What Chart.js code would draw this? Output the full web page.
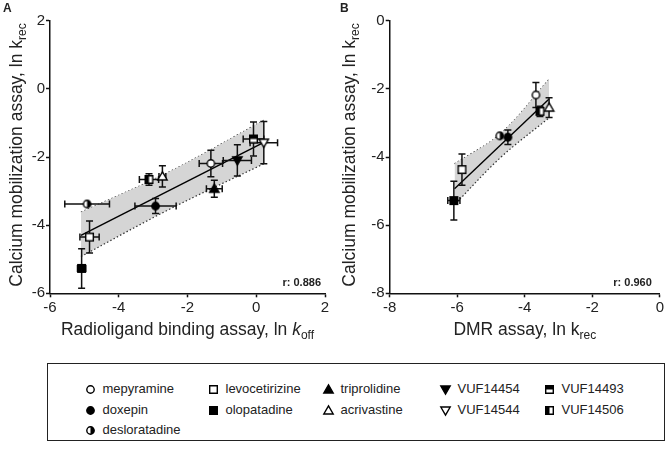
<!DOCTYPE html>
<html><head><meta charset="utf-8">
<script src="https://cdn.jsdelivr.net/npm/chart.js@4.4.1/dist/chart.umd.min.js"></script>
<style>
body{margin:0;background:#fff;width:666px;height:456px;overflow:hidden;position:relative;font-family:"Liberation Sans",Arial,sans-serif;color:#222}
#ca{position:absolute;left:0;top:0}
#cb{position:absolute;left:333px;top:0}
.plabel{position:absolute;font-weight:bold;font-size:12px;line-height:12px}
#legend{position:absolute;left:47px;top:363px;width:618px;height:78px;border:1px solid #222;box-sizing:border-box}
.item{position:absolute;font-size:13px;line-height:14px;white-space:nowrap;height:14px}
.item canvas{position:absolute;left:0;top:1px}
.item span{position:absolute;left:19px;top:0}
</style></head>
<body>
<canvas id="ca" width="333" height="350"></canvas>
<canvas id="cb" width="333" height="350"></canvas>
<div class="plabel" style="left:3px;top:2px">A</div>
<div class="plabel" style="left:340px;top:2px">B</div>
<div id="legend"></div>
<script>
// ---------------- DATA ----------------
const compounds = ['mepyramine','doxepin','desloratadine','levocetirizine','olopatadine','triprolidine','acrivastine','VUF14454','VUF14544','VUF14493','VUF14506'];
// Panel A: radioligand binding ln koff (x) vs calcium mobilization ln krec (y)
const radioX    = [-1.32, -2.93, -4.92, -4.85, -5.08, -1.22, -2.73, -0.55,  0.22, -0.08, -3.12];
const radioY    = [-2.19, -3.44, -3.38, -4.35, -5.27, -2.93, -2.57, -2.10, -1.58, -1.47, -2.66];
const radioXErr = [ 0.34,  0.60,  0.65,  0.28,  0.12,  0.23,  0.10,  0.41,  0.40,  0.30,  0.28];
const radioYErr = [ 0.39,  0.22,  0.00,  0.47,  0.58,  0.25,  0.31,  0.46,  0.62,  0.50,  0.17];
// Panel B: DMR ln krec (x) vs calcium mobilization ln krec (y)
const dmrX    = [-3.67, -4.50, -4.74, -5.86, -6.10, null, -3.28, null, null, null, -3.55];
const dmrY    = [-2.18, -3.42, -3.38, -4.37, -5.28, null, -2.55, null, null, null, -2.66];
const dmrXErr = [ 0.00,  0.05,  0.00,  0.00,  0.18, null,  0.00, null, null, null,  0.00];
const dmrYErr = [ 0.37,  0.21,  0.00,  0.46,  0.57, null,  0.29, null, null, null,  0.15];
// regression lines and confidence bands
const fitAX = [-5.10, 0.22];  const fitAY = [-4.30, -1.57];
const bandAX = [-5.10, -2.50, 0.22];
const bandAUpper = [-3.62, -2.42, -0.92];
const bandALower = [-4.92, -3.52, -2.20];
const fitBX = [-6.08, -3.28]; const fitBY = [-4.93, -2.30];
const bandBX = [-6.08, -4.70, -3.28];
const bandBUpper = [-4.20, -3.30, -1.72];
const bandBLower = [-5.40, -4.00, -2.85];
const rA = 'r: 0.886', rB = 'r: 0.960';
const ticksA = [-6,-4,-2,0,2], ticksBX = [-8,-6,-4,-2,0], ticksBY = [-8,-6,-4,-2,0];
// --------------------------------------

const markerKinds = ['circleOpen','circleFill','circleHalf','squareOpen','squareFill','triUpFill','triUpOpen','triDownFill','triDownOpen','squareTop','squareLeft'];
const FONT = '"Liberation Sans", Arial, sans-serif';

function makeMarker(kind, S){
  const c = document.createElement('canvas'); c.width=S; c.height=S;
  const g = c.getContext('2d');
  const m = S/2, r = 3.7, h = 3.8, t = 4.7;
  g.lineWidth = 1.4; g.strokeStyle='#000'; g.lineJoin='miter';
  const W='#fff', B='#000';
  const circ=()=>{g.beginPath(); g.arc(m,m,r,0,Math.PI*2);};
  const sq=()=>{g.beginPath(); g.rect(m-h,m-h,2*h,2*h);};
  const tu=()=>{g.beginPath(); g.moveTo(m,m-t); g.lineTo(m+t,m+t*0.75); g.lineTo(m-t,m+t*0.75); g.closePath();};
  const td=()=>{g.beginPath(); g.moveTo(m,m+t); g.lineTo(m+t,m-t*0.75); g.lineTo(m-t,m-t*0.75); g.closePath();};
  switch(kind){
    case 'circleOpen': circ(); g.fillStyle=W; g.fill(); g.stroke(); break;
    case 'circleFill': circ(); g.fillStyle=B; g.fill(); g.stroke(); break;
    case 'circleHalf': circ(); g.fillStyle=W; g.fill();
      g.beginPath(); g.moveTo(m,m); g.arc(m,m,r,-Math.PI/2,Math.PI/2,false); g.closePath(); g.fillStyle=B; g.fill();
      circ(); g.stroke(); break;
    case 'squareOpen': sq(); g.fillStyle=W; g.fill(); g.stroke(); break;
    case 'squareFill': sq(); g.fillStyle=B; g.fill(); g.stroke(); break;
    case 'squareTop': sq(); g.fillStyle=W; g.fill(); g.fillStyle=B; g.fillRect(m-h,m-h,2*h,h); sq(); g.stroke(); break;
    case 'squareLeft': sq(); g.fillStyle=W; g.fill(); g.fillStyle=B; g.fillRect(m-h,m-h,h,2*h); sq(); g.stroke(); break;
    case 'triUpFill': tu(); g.fillStyle=B; g.fill(); g.stroke(); break;
    case 'triUpOpen': tu(); g.fillStyle=W; g.fill(); g.stroke(); break;
    case 'triDownFill': td(); g.fillStyle=B; g.fill(); g.stroke(); break;
    case 'triDownOpen': td(); g.fillStyle=W; g.fill(); g.stroke(); break;
  }
  return c;
}
const markers = markerKinds.map(k=>makeMarker(k,13));

function pts(xs, ys){ return xs.map((x,i)=>({x:x, y:ys[i]})); }

function buildPanel(id, xs, ys, xe, ye, fitX, fitY, bX, bUp, bLo, xMin, xMax, yMin, yMax, yAxisW, padRight, rText, rRight, yTitle, xTitleParts){
  const idx = [];
  xs.forEach((x,i)=>{ if(x!==null && ys[i]!==null) idx.push(i); });
  const scatterData = idx.map(i=>({x:xs[i], y:ys[i], xe:xe[i], ye:ye[i]}));
  const styles = idx.map(i=>markers[i]);

  const errPlugin = {
    id:'err'+id,
    beforeDatasetDraw(chart, args){
      if(args.index!==3) return;
      const ctx = chart.ctx, sx = chart.scales.x, sy = chart.scales.y;
      ctx.save(); ctx.strokeStyle='#111'; ctx.lineWidth=1.5; const cap=3.5;
      scatterData.forEach(p=>{
        const px = sx.getPixelForValue(p.x), py = sy.getPixelForValue(p.y);
        if(p.ye>0){
          const y1 = sy.getPixelForValue(p.y+p.ye), y2 = sy.getPixelForValue(p.y-p.ye);
          ctx.beginPath(); ctx.moveTo(px,y1); ctx.lineTo(px,y2);
          ctx.moveTo(px-cap,y1); ctx.lineTo(px+cap,y1); ctx.moveTo(px-cap,y2); ctx.lineTo(px+cap,y2); ctx.stroke();
        }
        if(p.xe>0){
          const x1 = sx.getPixelForValue(p.x-p.xe), x2 = sx.getPixelForValue(p.x+p.xe);
          ctx.beginPath(); ctx.moveTo(x1,py); ctx.lineTo(x2,py);
          ctx.moveTo(x1,py-cap); ctx.lineTo(x1,py+cap); ctx.moveTo(x2,py-cap); ctx.lineTo(x2,py+cap); ctx.stroke();
        }
      });
      ctx.restore();
    },
    afterDraw(chart){
      const ctx = chart.ctx, a = chart.chartArea;
      ctx.save(); ctx.fillStyle='#222';
      ctx.font = 'bold 11px '+FONT; ctx.textAlign='right'; ctx.textBaseline='alphabetic';
      ctx.fillText(rText, a.right - rRight, a.bottom - 7.5);
      ctx.translate(15, (a.top+a.bottom)/2 - 2); ctx.rotate(-Math.PI/2);
      ctx.textAlign='left'; ctx.textBaseline='alphabetic';
      ctx.font = '17.5px '+FONT; const w1 = ctx.measureText(yTitle[0]).width;
      ctx.font = '12px '+FONT; const w2 = ctx.measureText(yTitle[1]).width;
      const sx0 = -(w1+w2)/2;
      ctx.font = '17.5px '+FONT; ctx.fillText(yTitle[0], sx0, 6.5);
      ctx.font = '12px '+FONT; ctx.fillText(yTitle[1], sx0+w1, 11);
      ctx.restore();
      ctx.save(); ctx.fillStyle='#222'; ctx.textAlign='left'; ctx.textBaseline='alphabetic';
      let total = 0; const widths = xTitleParts.map(p=>{ ctx.font = p.f; const w = ctx.measureText(p.t).width; total+=w; return w; });
      let cx = (a.left+a.right)/2 - total/2;
      xTitleParts.forEach((p,i)=>{ ctx.font = p.f; ctx.fillText(p.t, cx, 335 + (p.dy||0)); cx += widths[i]; });
      ctx.restore();
    }
  };

  const axisCommon = (min,max,isX)=>({
    type:'linear', min:min, max:max,
    ticks:{stepSize:2, color:'#222', font:{size:15, family:FONT}, padding: isX?2:1, autoSkip:false},
    grid:{display:true, drawOnChartArea:false, drawTicks:true, tickLength:4, tickColor:'#111', tickWidth:1.5},
    border:{display:true, color:'#111', width:1.5},
    afterFit(s){ if(isX) s.height = 350-293.3; else s.width = yAxisW; }
  });

  return new Chart(document.getElementById(id), {
    type:'scatter',
    data:{datasets:[
      {type:'line', data:pts(bX,bUp), borderColor:'#333', borderWidth:1.2, borderDash:[1.5,2.2], pointRadius:0, tension:0.35, fill:false, order:10},
      {type:'line', data:pts(bX,bLo), borderColor:'#333', borderWidth:1.2, borderDash:[1.5,2.2], pointRadius:0, tension:0.35, fill:{target:0}, backgroundColor:'#d5d5d5', order:9},
      {type:'line', data:pts(fitX,fitY), borderColor:'#000', borderWidth:1.4, pointRadius:0, fill:false, order:8},
      {data:scatterData, pointStyle:styles, pointRadius:4, order:0}
    ]},
    options:{
      responsive:false, animation:false, events:[],
      layout:{padding:{top:20.7, right:padRight, left:0, bottom:0}},
      plugins:{legend:{display:false}, tooltip:{enabled:false}},
      scales:{ x: axisCommon(xMin,xMax,true), y: axisCommon(yMin,yMax,false) }
    },
    plugins:[errPlugin]
  });
}

buildPanel('ca', radioX, radioY, radioXErr, radioYErr, fitAX, fitAY, bandAX, bandAUpper, bandALower,
  ticksA[0], ticksA[ticksA.length-1], ticksA[0], ticksA[ticksA.length-1], 50, 8, rA, 4,
  ['Calcium mobilization assay, ln k','rec'],
  [{t:'Radioligand binding assay, ln ', f:'17.5px '+FONT},{t:'k', f:'italic 17.5px '+FONT},{t:'off', f:'12px '+FONT, dy:4}]);
buildPanel('cb', dmrX, dmrY, dmrXErr, dmrYErr, fitBX, fitBY, bandBX, bandBUpper, bandBLower,
  ticksBX[0], ticksBX[ticksBX.length-1], ticksBY[0], ticksBY[ticksBY.length-1], 56.7, 3.7, rB, 8,
  ['Calcium mobilization assay, ln k','rec'],
  [{t:'DMR assay, ln k', f:'17.5px '+FONT},{t:'rec', f:'12px '+FONT, dy:4}]);

const legendLayout = [[0,90,389],[1,90,410],[2,90,430],[3,213,389],[4,213,410],[5,328,389],[6,328,410],[7,445,389],[8,445,410],[9,549,389],[10,549,410]];
const lg = document.getElementById('legend');
legendLayout.forEach(([i,mx,my])=>{
  const d = document.createElement('div'); d.className='item';
  d.style.left = (mx-6.5-48)+'px'; d.style.top = (my-7-364)+'px';
  const c = makeMarker(markerKinds[i],13); d.appendChild(c);
  const s = document.createElement('span'); s.textContent = compounds[i]; d.appendChild(s);
  lg.appendChild(d);
});
</script>
</body></html>
